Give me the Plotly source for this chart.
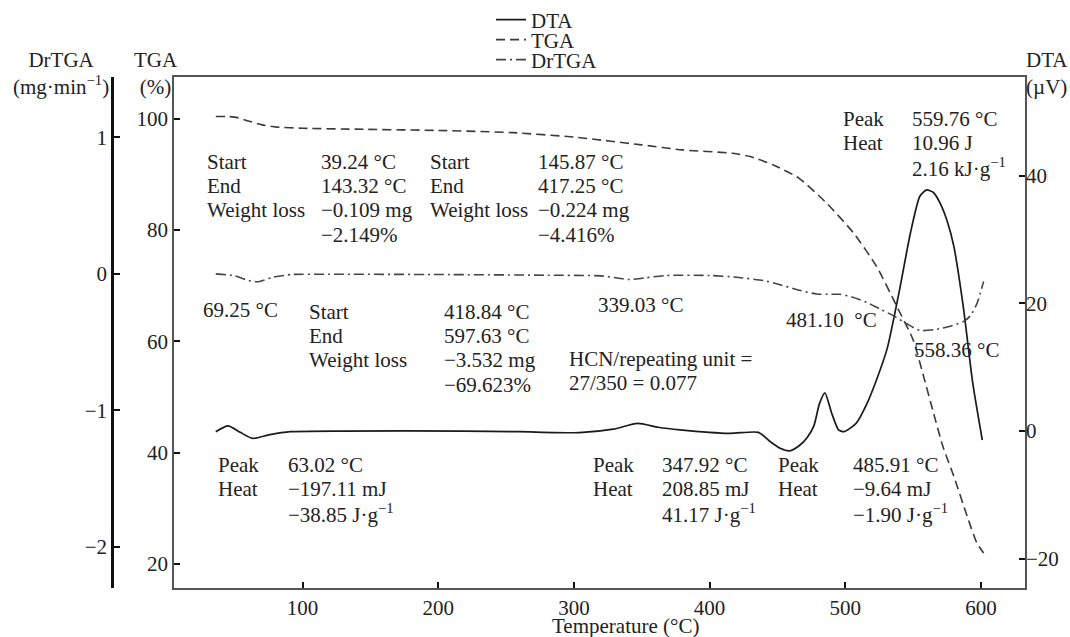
import plotly.graph_objects as go

# ---- thermogram readings -------------------------------------------------
# TGA: residual mass (%) against temperature (°C)
tga_temp = [36, 45, 52, 60, 70, 81, 100, 145, 200, 255, 300, 326, 350, 380,
            417, 430, 447, 466, 486, 506, 523, 538, 550, 558, 565, 572, 580,
            590, 597, 602]
tga_pct = [100.4, 100.4, 100.2, 99.6, 98.9, 98.5, 98.3, 98.1, 97.9, 97.5,
           96.7, 96.0, 95.3, 94.4, 93.8, 93.2, 91.7, 89.3, 84.9, 79.5, 73.5,
           66.3, 60.3, 53.5, 47.2, 41.1, 35.8, 28.5, 23.8, 22.0]

# DrTGA: rate of mass change (mg·min^-1)
drtga_temp = [36, 50, 60, 67, 78, 92, 120, 200, 280, 320, 332, 341, 352, 368,
              400, 420, 440, 452, 466, 479, 488, 496, 505, 516, 526, 536, 546,
              555, 565, 575, 587, 592, 597, 602]
drtga_rate = [0.0, -0.015, -0.048, -0.058, -0.025, -0.005, -0.003, -0.005,
              -0.01, -0.015, -0.03, -0.042, -0.03, -0.012, -0.012, -0.025,
              -0.05, -0.08, -0.12, -0.148, -0.15, -0.15, -0.17, -0.21, -0.26,
              -0.31, -0.37, -0.415, -0.41, -0.39, -0.35, -0.31, -0.22, -0.055]

# DTA: differential signal (µV)
dta_temp = [36, 45, 54, 63, 75, 91, 130, 218, 260, 304, 329, 347, 362, 378,
            415, 436, 445, 452, 459, 466, 472, 477, 481, 485, 490, 495, 499,
            508, 516, 523, 531, 540, 548, 555, 560, 565, 570, 575, 580, 587,
            594, 601]
dta_uv = [-0.1, 0.8, -0.2, -1.15, -0.6, -0.1, 0.0, 0.0, -0.1, -0.25, 0.3,
          1.2, 0.6, 0.2, -0.35, -0.2, -1.7, -2.7, -3.1, -2.3, -1.0, 0.9, 4.3,
          6.0, 2.8, 0.2, -0.1, 1.2, 4.3, 8.0, 13.0, 22.1, 31.0, 36.8, 37.8,
          37.4, 35.7, 33.0, 29.0, 19.5, 7.5, -1.4]

# ---- axis ticks ---------------------------------------------------------
x_ticks = [100, 200, 300, 400, 500, 600]
tga_ticks = [20, 40, 60, 80, 100]
dta_ticks = [-20, 0, 20, 40]
drtga_ticks = [-2, -1, 0, 1]

FONT = "Liberation Serif"
INK = "#222222"
FS = 21
LINE_STEP = 4.38  # vertical distance between note lines, in TGA % units

fig = go.Figure()

fig.add_trace(go.Scatter(
    x=dta_temp, y=dta_uv, name="DTA", yaxis="y2", mode="lines",
    line=dict(color="#1a1a1a", width=1.7, shape="spline", smoothing=0.6),
    legend="legend", showlegend=True))
fig.add_trace(go.Scatter(
    x=tga_temp, y=tga_pct, name="TGA", yaxis="y", mode="lines",
    line=dict(color="#3a3a3a", width=1.6, dash="9px,5px", shape="spline",
              smoothing=0.6),
    legend="legend2", showlegend=True))
fig.add_trace(go.Scatter(
    x=drtga_temp, y=drtga_rate, name="DrTGA", yaxis="y3", mode="lines",
    line=dict(color="#444444", width=1.6, dash="10px,4px,2px,4px",
              shape="spline", smoothing=0.6),
    legend="legend3", showlegend=True))

axis_common = dict(
    showgrid=False, zeroline=False, ticks="inside", ticklen=6, tickwidth=2,
    tickcolor="#111111", tickfont=dict(family=FONT, size=FS, color=INK),
)

frame = dict(showline=True, linecolor="#555555", linewidth=1.5, mirror=True)

# one single-entry legend per trace, stacked above the plot frame
legend_style = dict(
    font=dict(family=FONT, size=FS, color=INK), bgcolor="rgba(0,0,0,0)",
    borderwidth=0, xanchor="left", yanchor="middle", x=0.4227,
    yref="container",
)

fig.update_layout(
    width=1070, height=637,
    margin=dict(l=100, r=45, t=77, b=49, autoexpand=False),
    paper_bgcolor="white", plot_bgcolor="white",
    font=dict(family=FONT, size=FS, color=INK),
    showlegend=True,
    xaxis=dict(domain=[0.08, 1.0], range=[5.2, 632.5], tickvals=x_ticks,
               **axis_common, **frame),
    yaxis=dict(range=[15.7, 107.5], tickvals=tga_ticks, **axis_common,
               **frame),
    yaxis2=dict(range=[-24.6, 55.5], tickvals=dta_ticks, overlaying="y",
                side="right", anchor="x", showline=False, **axis_common),
    yaxis3=dict(range=[-2.303, 1.443], tickvals=drtga_ticks, overlaying="y",
                side="left", anchor="free", position=0.013, showline=True,
                linecolor="#111111", linewidth=2.5, **axis_common),
    legend=dict(y=0.9686, **legend_style),
    legend2=dict(y=0.9372, **legend_style),
    legend3=dict(y=0.9058, **legend_style),
)

# ---- axis titles ---------------------------------------------------------
titles = [
    (-0.042, 1.006, "DrTGA<br>(mg·min<sup>−1</sup>)"),
    (0.0605, 1.006, "TGA<br>(%)"),
    (1.024, 1.006, "DTA<br>(µV)"),
]
for tx, ty, text in titles:
    fig.add_annotation(x=tx, y=ty, xref="paper", yref="paper", text=text,
                       showarrow=False, xanchor="center", yanchor="middle",
                       align="center", font=dict(family=FONT, size=FS,
                                                 color=INK))
fig.add_annotation(x=0.5676, y=-0.074, xref="paper", yref="paper",
                   text="Temperature (°C)", showarrow=False,
                   xanchor="center", yanchor="middle",
                   font=dict(family=FONT, size=FS, color=INK))

# ---- thermal event notes: (x in °C, first line on the TGA scale, lines) --
notes = [
    (28.7, 92.32, ["Start", "End", "Weight loss"]),
    (113.0, 92.32, ["39.24 °C", "143.32 °C", "−0.109 mg", "−2.149%"]),
    (193.3, 92.32, ["Start", "End", "Weight loss"]),
    (273.0, 92.32, ["145.87 °C", "417.25 °C", "−0.224 mg", "−4.416%"]),
    (26.0, 65.68, ["69.25 °C"]),
    (103.7, 65.37, ["Start", "End", "Weight loss"]),
    (203.2, 65.37, ["418.84 °C", "597.63 °C", "−3.532 mg", "−69.623%"]),
    (316.7, 66.58, ["339.03 °C"]),
    (295.8, 56.88, ["HCN/repeating unit =", "27/350 = 0.077"]),
    (497.3, 99.94, ["Peak", "Heat"]),
    (548.2, 99.94, ["559.76 °C", "10.96 J", "2.16 kJ·g<sup>−1</sup>"]),
    (455.5, 63.88, ["481.10  °C"]),
    (550.1, 58.37, ["558.36 °C"]),
    (37.1, 37.84, ["Peak", "Heat"]),
    (88.7, 37.84, ["63.02 °C", "−197.11 mJ", "−38.85 J·g<sup>−1</sup>"]),
    (313.5, 37.84, ["Peak", "Heat"]),
    (364.1, 37.84, ["347.92 °C", "208.85 mJ", "41.17 J·g<sup>−1</sup>"]),
    (449.4, 37.84, ["Peak", "Heat"]),
    (504.7, 37.84, ["485.91 °C", "−9.64 mJ", "−1.90 J·g<sup>−1</sup>"]),
]
for nx, ny, lines in notes:
    for i, line in enumerate(lines):
        fig.add_annotation(x=nx, y=ny - i * LINE_STEP, xref="x", yref="y",
                           text=line, showarrow=False, xanchor="left",
                           yanchor="middle", align="left", borderpad=0,
                           font=dict(family=FONT, size=FS, color=INK))

fig.write_html("out.html")
